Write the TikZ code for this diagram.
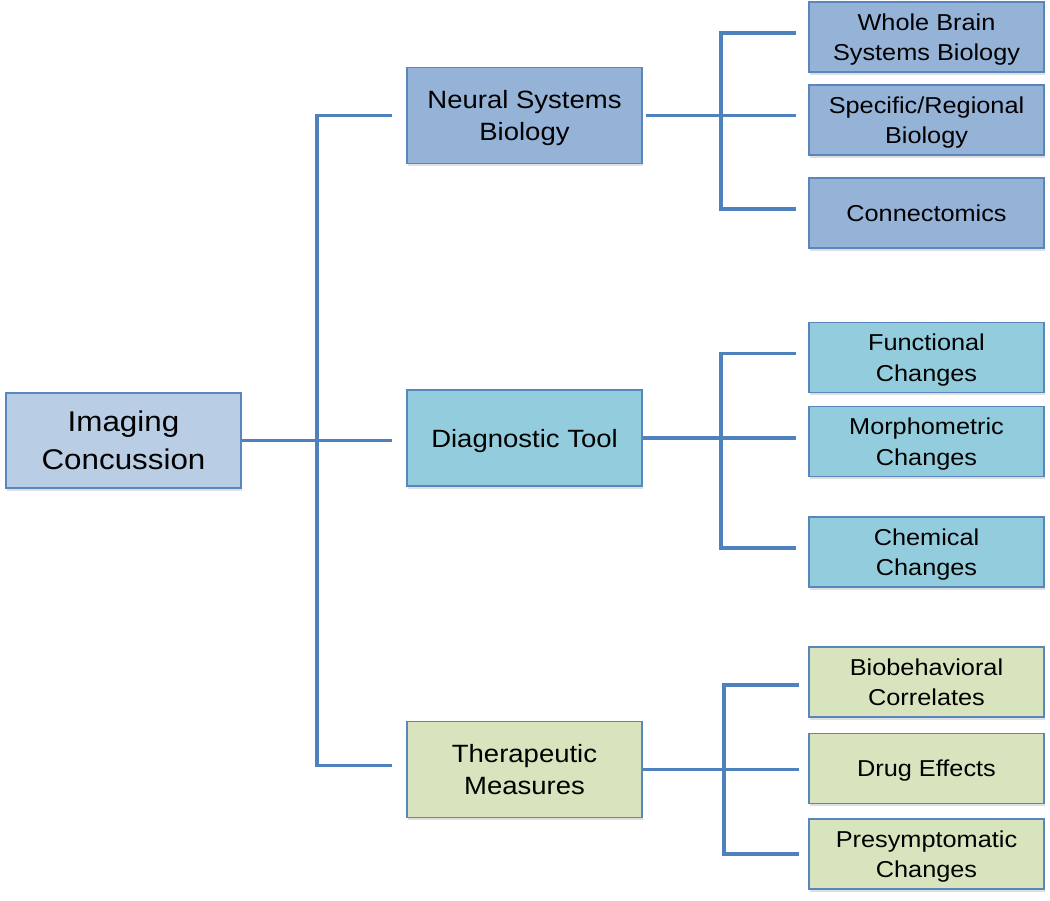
\documentclass[tikz,border=0pt]{standalone}
\usepackage{fontspec}
\setmainfont{Liberation Sans}[FakeStretch=1.1]
\usetikzlibrary{shadows}
\definecolor{linec}{HTML}{4F81BD}
\definecolor{boxline}{HTML}{5A86BE}
\definecolor{rootfill}{HTML}{B9CDE5}
\definecolor{bluefill}{HTML}{95B3D7}
\definecolor{aquafill}{HTML}{93CDDD}
\definecolor{greenfill}{HTML}{D7E4BD}
\tikzset{
  box/.style={draw=boxline, line width=1.5pt, align=center, inner sep=0pt,
    minimum width=235pt, text=black, text depth=-1.5pt,
    drop shadow={opacity=0.25, shadow xshift=1pt, shadow yshift=-2.5pt}},
  rootbox/.style={box, fill=rootfill, minimum height=95pt, font=\fontsize{28.5}{38}\selectfont},
  midbox/.style={box, minimum height=96pt, font=\fontsize{25}{32.5}\selectfont},
  leafbox/.style={box, minimum height=70pt, font=\fontsize{23}{30.5}\selectfont},
  conn/.style={draw=linec, line width=3.5pt}
}
\begin{document}
\begin{tikzpicture}[x=1pt,y=-1pt]
\useasboundingbox (0,0) rectangle (1050,900);
% nodes
\node[rootbox] (root) at (123.5,440.5) {Imaging\\Concussion};
\node[midbox, fill=bluefill] (nsb) at (524.5,115.5) {Neural Systems\\Biology};
\node[midbox, fill=aquafill] (dt) at (524.5,438) {Diagnostic Tool};
\node[midbox, fill=greenfill] (tm) at (524.5,769.5) {Therapeutic\\Measures};
\node[leafbox, fill=bluefill] (wb) at (926.5,37) {Whole Brain\\Systems Biology};
\node[leafbox, fill=bluefill] (sr) at (926.5,120) {Specific/Regional\\Biology};
\node[leafbox, fill=bluefill] (cn) at (926.5,213) {Connectomics};
\node[leafbox, fill=aquafill] (fc) at (926.5,357.5) {Functional\\Changes};
\node[leafbox, fill=aquafill] (mc) at (926.5,441.5) {Morphometric\\Changes};
\node[leafbox, fill=aquafill] (cc) at (926.5,552) {Chemical\\Changes};
\node[leafbox, fill=greenfill] (bc) at (926.5,682) {Biobehavioral\\Correlates};
\node[leafbox, fill=greenfill] (de) at (926.5,768.5) {Drug Effects};
\node[leafbox, fill=greenfill] (pc) at (926.5,854) {Presymptomatic\\Changes};
% bus x positions
\coordinate (b0) at (317,0);
\coordinate (b1) at (721,0);
\coordinate (b2) at (721,0);
\coordinate (b3) at (724,0);
% branch ends
\coordinate (nsbin) at ([xshift=-14pt]nsb.west);
\coordinate (dtin) at ([xshift=-14pt]dt.west |- root.east);
\coordinate (tmin) at ([xshift=-14pt,yshift=4pt]tm.west);
\coordinate (wbin) at ([xshift=-12pt,yshift=4pt]wb.west);
\coordinate (srin) at ([xshift=-12pt]sr.west |- nsb.east);
\coordinate (cnin) at ([xshift=-12pt,yshift=4pt]cn.west);
\coordinate (fcin) at ([xshift=-12pt,yshift=4pt]fc.west);
\coordinate (mcin) at ([xshift=-12pt]mc.west |- dt.east);
\coordinate (ccin) at ([xshift=-12pt,yshift=4pt]cc.west);
\coordinate (bcin) at ([xshift=-9pt,yshift=-3pt]bc.west);
\coordinate (dein) at ([xshift=-9pt]de.west |- tm.east);
\coordinate (pcin) at ([xshift=-9pt]pc.west);
% root level
\draw[conn] (root.east) -- (dtin);
\draw[conn] (nsbin) -| (tmin -| b0) -- (tmin);
% neural systems
\draw[conn] ([xshift=3pt]nsb.east) -- (srin);
\draw[conn] (wbin) -| (cnin -| b1) -- (cnin);
% diagnostic
\draw[conn] (dt.east) -- (mcin);
\draw[conn] (fcin) -| (ccin -| b2) -- (ccin);
% therapeutic
\draw[conn] (tm.east) -- (dein);
\draw[conn] (bcin) -| (pcin -| b3) -- (pcin);
\end{tikzpicture}
\end{document}
